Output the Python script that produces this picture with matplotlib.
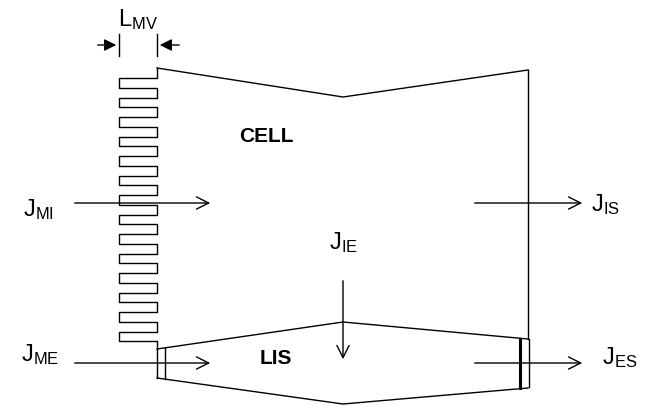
import numpy as np
import matplotlib.pyplot as plt

plt.rcParams['font.family'] = ['Liberation Sans', 'DejaVu Sans']
plt.rcParams['mathtext.fontset'] = 'custom'
plt.rcParams['mathtext.rm'] = 'Liberation Sans'
plt.rcParams['mathtext.it'] = 'Liberation Sans'

# outline points (image pixel coordinates)
cell_top_x = [157, 343, 528]
cell_top_y = [68, 97, 70]
lis_top_x = [157, 343, 528]
lis_top_y = [349, 322, 339]
lis_bot_x = [157, 343, 528]
lis_bot_y = [378, 404, 388]
n_teeth = 14
comb_left, comb_right, comb_top, comb_period, tooth_h = 119, 157, 78, 19.5, 9.5

flux_labels = ['MI', 'IS', 'ME', 'ES', 'IE']
flux_arrows = [(72, 203, 213, 203), (472, 203, 585, 203), (72, 363, 213, 363),
               (472, 363, 585, 363), (343, 278, 343, 362)]
label_pos = [(38, 210), (605, 205), (40, 355), (620, 358), (343, 243)]

fig = plt.figure(figsize=(6.6, 4.12), dpi=100)
ax = fig.add_axes([0, 0, 1, 1])
ax.set_xlim(0, 660)
ax.set_ylim(412, 0)
ax.axis('off')
lw = 1.0
k = 'black'

ax.plot(cell_top_x, cell_top_y, color=k, lw=lw)
ax.plot([528, 528], [70, 339], color=k, lw=lw)
ax.plot(lis_top_x, lis_top_y, color=k, lw=lw)
ax.plot(lis_bot_x, lis_bot_y, color=k, lw=lw)
ax.plot([529, 529], [339, 387], color=k, lw=lw)
ax.plot([520, 520], [339, 388], color=k, lw=2.2)
ax.plot([157, 157], [349, 378], color=k, lw=lw)
ax.plot([165, 165], [348, 379], color=k, lw=lw)

# microvilli comb
xs, ys = [157], [68]
y = comb_top
xs.append(157); ys.append(y)
for i in range(n_teeth):
    xs += [comb_left, comb_left, comb_right]
    ys += [y, y + tooth_h, y + tooth_h]
    y += comb_period
    if i < n_teeth - 1:
        xs.append(comb_right); ys.append(y)
xs.append(157); ys.append(349)
ax.plot(xs, ys, color=k, lw=lw)

# L_MV dimension
ax.plot([119, 119], [34, 56], color=k, lw=lw)
ax.plot([157, 157], [34, 56], color=k, lw=lw)
ax.annotate('', xy=(119, 45), xytext=(95, 45),
            arrowprops=dict(arrowstyle='-|>', color=k, lw=lw, mutation_scale=18))
ax.annotate('', xy=(157, 45), xytext=(182, 45),
            arrowprops=dict(arrowstyle='-|>', color=k, lw=lw, mutation_scale=18))
ax.text(138, 32, r'$\mathrm{L_{MV}}$', fontsize=17, ha='center', va='bottom')

for lab, (x0, y0, x1, y1), (tx, ty) in zip(flux_labels, flux_arrows, label_pos):
    ax.annotate('', xy=(x1, y1), xytext=(x0, y0),
                arrowprops=dict(arrowstyle='->', color=k, lw=lw, mutation_scale=22))
    ax.text(tx, ty, r'$\mathrm{J_{%s}}$' % lab, fontsize=17, ha='center', va='center')

ax.text(266, 136, 'CELL', fontsize=15, fontweight='bold', ha='center', va='center')
ax.text(276, 358, 'LIS', fontsize=15, fontweight='bold', ha='center', va='center')

fig.savefig('out.png', dpi=100)
